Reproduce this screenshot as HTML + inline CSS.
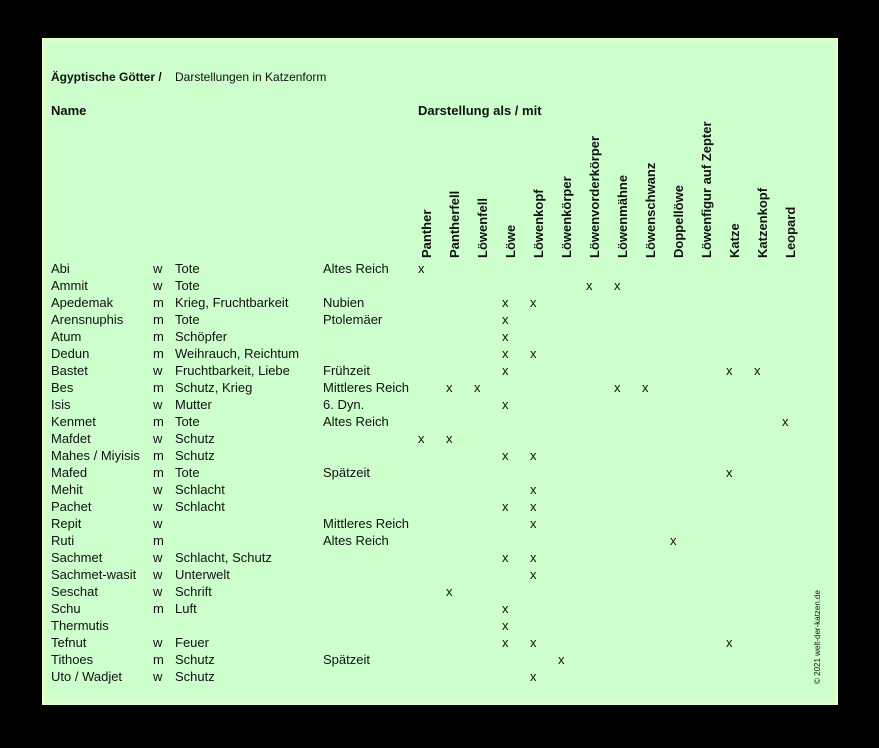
<!DOCTYPE html>
<html><head><meta charset="utf-8"><style>
body{margin:0;width:879px;height:748px;background:#000;position:relative;overflow:hidden;font-family:"Liberation Sans",Arial,sans-serif;color:#111}
#paper{position:absolute;left:42px;top:38px;width:796px;height:667px;background:#ccffcc;box-shadow:inset 0 0 6px 3px #e6ffc8}
.t{position:absolute;font-size:13px;line-height:15px;white-space:nowrap}
.b{font-weight:bold}
.h{position:absolute;font-size:13px;font-weight:bold;white-space:nowrap;transform-origin:0 0;transform:rotate(-90deg);line-height:15px}
.x{position:absolute;font-size:13px;line-height:15px}
</style></head><body>
<div id="paper"></div>
<div class="t b" style="left:51px;top:70px;font-size:12px">Ägyptische Götter /</div>
<div class="t" style="left:175px;top:70px;font-size:12px">Darstellungen in Katzenform</div>
<div class="t b" style="left:51px;top:103px">Name</div>
<div class="t b" style="left:418px;top:103px">Darstellung als / mit</div>
<div id="hd"></div>
<div id="rows"></div>
<div class="h" style="left:810px;top:684px;font-size:8px;font-weight:normal">© 2021 welt-der-katzen.de</div>
<script>
var cols=["Panther","Pantherfell","Löwenfell","Löwe","Löwenkopf","Löwenkörper","Löwenvorderkörper","Löwenmähne","Löwenschwanz","Doppellöwe","Löwenfigur auf Zepter","Katze","Katzenkopf","Leopard"];
var h="";cols.forEach(function(c,i){h+='<div class="h" style="left:'+(419+i*28)+'px;top:258px">'+c+'</div>';});
document.getElementById("hd").innerHTML=h;
var R=[["Abi","w","Tote","Altes Reich",[0]],["Ammit","w","Tote","",[6,7]],["Apedemak","m","Krieg, Fruchtbarkeit","Nubien",[3,4]],["Arensnuphis","m","Tote","Ptolemäer",[3]],["Atum","m","Schöpfer","",[3]],["Dedun","m","Weihrauch, Reichtum","",[3,4]],["Bastet","w","Fruchtbarkeit, Liebe","Frühzeit",[3,11,12]],["Bes","m","Schutz, Krieg","Mittleres Reich",[1,2,7,8]],["Isis","w","Mutter","6. Dyn.",[3]],["Kenmet","m","Tote","Altes Reich",[13]],["Mafdet","w","Schutz","",[0,1]],["Mahes / Miyisis","m","Schutz","",[3,4]],["Mafed","m","Tote","Spätzeit",[11]],["Mehit","w","Schlacht","",[4]],["Pachet","w","Schlacht","",[3,4]],["Repit","w","","Mittleres Reich",[4]],["Ruti","m","","Altes Reich",[9]],["Sachmet","w","Schlacht, Schutz","",[3,4]],["Sachmet-wasit","w","Unterwelt","",[4]],["Seschat","w","Schrift","",[1]],["Schu","m","Luft","",[3]],["Thermutis","","","",[3]],["Tefnut","w","Feuer","",[3,4,11]],["Tithoes","m","Schutz","Spätzeit",[5]],["Uto / Wadjet","w","Schutz","",[4]]];
var s="";R.forEach(function(r,i){var y=261+i*17;
s+='<div class="t" style="left:51px;top:'+y+'px">'+r[0]+'</div><div class="t" style="left:153px;top:'+y+'px">'+r[1]+'</div><div class="t" style="left:175px;top:'+y+'px">'+r[2]+'</div><div class="t" style="left:323px;top:'+y+'px">'+r[3]+'</div>';
r[4].forEach(function(c){s+='<div class="x" style="left:'+(418+c*28)+'px;top:'+y+'px">x</div>';});});
document.getElementById("rows").innerHTML=s;
</script>
</body></html>
